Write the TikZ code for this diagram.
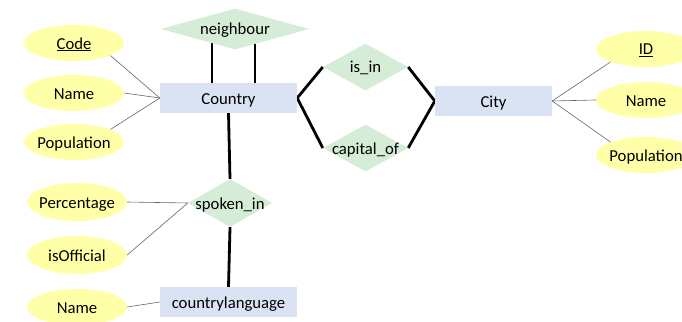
\documentclass[tikz,border=0pt]{standalone}
\usepackage{fontspec}
\setmainfont{Carlito}
\usetikzlibrary{shapes.geometric,backgrounds}
\definecolor{attrfill}{HTML}{FFFFA8}
\definecolor{entfill}{HTML}{DAE3F3}
\definecolor{relfill}{HTML}{D5EDD6}
% zero-width box: text may overhang its shape, as in the diagram
\newcommand{\ctr}[1]{\makebox[0pt]{#1}}

\begin{document}
\begin{tikzpicture}[x=1pt,y=-1pt,
  every node/.style={font=\fontsize{16.7}{20}\selectfont, inner sep=0pt,
    text height=12pt, text depth=0pt},
  attr/.style={ellipse, fill=attrfill, minimum width=100pt, minimum height=36pt},
  entity/.style={rectangle, fill=entfill, minimum width=137pt, minimum height=30pt},
  rel/.style={diamond, fill=relfill},
  thin link/.style={draw=black!60, line width=0.6pt},
  thick link/.style={draw=black, line width=2.8pt}
]
\useasboundingbox (0,0) rectangle (682,321);
\clip (0,0) rectangle (682,321);

% Country and its attributes
\node[attr] (code)  at (74,43)  {\ctr{\underline{Code}}};
\node[attr] (cname) at (74,93)  {\ctr{Name}};
\node[attr] (cpop)  at (74,142) {\ctr{Population}};
\node[entity] (country) at (228.5,98) {\ctr{Country}};
\node[rel, minimum width=148pt, minimum height=41pt] (nb) at (235,29) {\ctr{neighbour}};

% Country -- City relationships
\node[rel, minimum width=85pt, minimum height=47pt] (isin)  at (365.5,67)  {\ctr{is\_in}};
\node[rel, minimum width=85pt, minimum height=47pt] (capof) at (365.5,148) {\ctr{capital\_of}};
\node[entity, minimum width=117pt] (city) at (493.5,101) {\ctr{City}};
\node[attr] (id)       at (646,49)  {\ctr{\underline{ID}}};
\node[attr] (cityname) at (646,100) {\ctr{Name}};
\node[attr] (citypop)  at (646,155) {\ctr{Population}};

% Language part
\node[rel, minimum width=84pt, minimum height=48pt] (spoken) at (230,203) {\ctr{spoken\_in}};
\node[attr, minimum height=38pt] (pct)      at (77,202) {\ctr{Percentage}};
\node[attr, minimum height=38pt] (official) at (77,255) {\ctr{isOfficial}};
\node[attr] (lname) at (77,307) {\ctr{Name}};
\node[entity] (lang) at (228.5,302) {\ctr{countrylanguage}};

\begin{scope}[on background layer]
  % attribute links
  \draw[thin link] (code.-19) -- (country.west);
  \draw[thin link] (cname.east) -- (country.west);
  \draw[thin link] (cpop.19) -- (country.west);
  \draw[thin link] (id.200) -- (city.east);
  \draw[thin link] (cityname.west) -- (city.east);
  \draw[thin link] (citypop.160) -- (city.east);
  \draw[thin link] (pct.east) -- (spoken.west);
  \draw[thin link] (official.east) -- (spoken.west);
  \draw[thin link] (lname.east) -- (lang.west);
  % relationship links
  \draw[thick link] ([xshift=-16.5pt]country.north) -- ([xshift=-16.5pt]country.north |- nb.center);
  \draw[thick link] ([xshift=26.5pt]country.north) -- ([xshift=26.5pt]country.north |- nb.center);
  \draw[thick link] (country.east) -- (isin.west);
  \draw[thick link] (country.east) -- (capof.west);
  \draw[thick link] (isin.east) -- (city.west);
  \draw[thick link] (capof.east) -- (city.west);
  \draw[thick link] (country.south) -- (spoken.north);
  \draw[thick link] (spoken.south) -- (lang.north);
\end{scope}
\end{tikzpicture}
\end{document}
